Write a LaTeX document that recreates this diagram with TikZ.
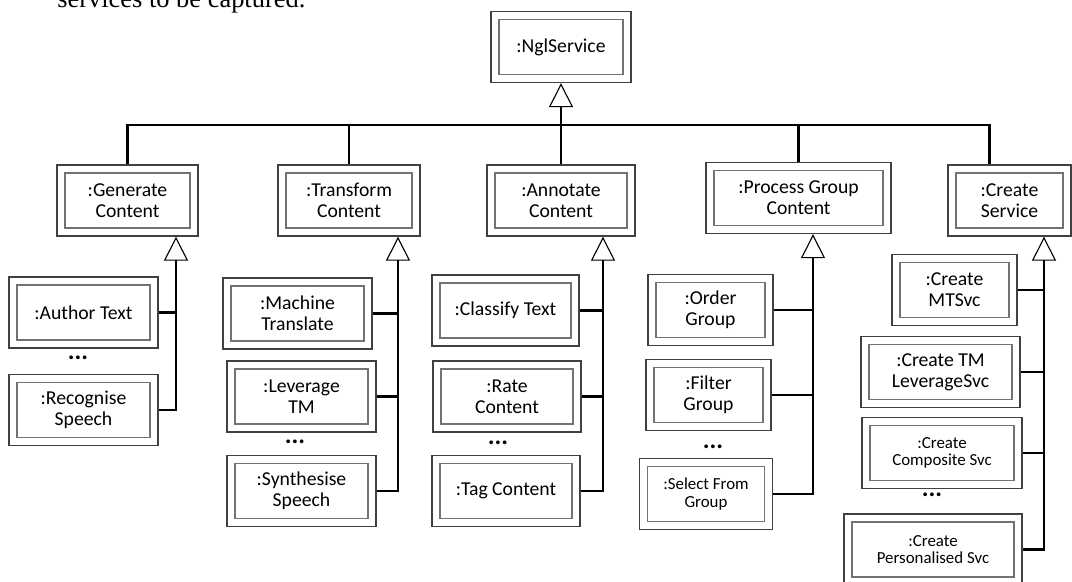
\documentclass[tikz,border=0pt]{standalone}
\usepackage{fontspec}
\setmainfont{Liberation Serif}
\newfontfamily\boxfont{Carlito}
\usetikzlibrary{arrows.meta,calc}

\begin{document}
\begin{tikzpicture}[
	x=0.025cm, y=-0.025cm,
	obj/.style={draw=black!75, line width=0.9pt, fill=white, minimum height=1.775cm,
		align=center, inner sep=2pt, font=\boxfont\fontsize{14}{15}\selectfont,
		path picture={\draw[black!55, line width=0.9pt]
			([shift={(0.2cm,0.2cm)}]path picture bounding box.south west) rectangle
			([shift={(-0.2cm,-0.2cm)}]path picture bounding box.north east);}},
	small obj/.style={obj, font=\boxfont\fontsize{12}{12.5}\selectfont},
	boxw/.style={minimum width=#1*0.025cm},
	link/.style={line width=2.1pt},
	inherit/.style={line width=2.1pt, -{Triangle[length=0.6cm, width=0.6cm, line width=0.8pt, fill=white]}},
	dots/.style={font=\boxfont\bfseries\fontsize{18}{18}\selectfont, inner sep=0pt}
	]
	\useasboundingbox (0,0) rectangle (1072,581);
	% caption text cut at the top
	\node[anchor=base west, inner sep=0pt, font=\fontsize{18.8}{20}\selectfont] (caption) at (57,7) {services to be captured.};
	% root
	\node[obj, boxw=140] (ngl) at (561,47) {:NglService};
	% second row
	\node[obj, boxw=141] (gen) at (127.5,200.5) {:Generate\\Content};
	\node[obj, boxw=142] (trans) at (349,200.5) {:Transform\\Content};
	\node[obj, boxw=148] (annot) at (561,200.5) {:Annotate\\Content};
	\node[obj, boxw=185] (proc) at (798.5,198) {:Process Group\\Content};
	\node[obj, boxw=123] (cserv) at (1009.5,200.5) {:Create\\Service};
	\coordinate (bus) at (561,125);
	\draw[link] (gen.north) |- (bus) -| ([xshift=-0.5cm]cserv.north);
	\draw[link] (trans.north) -- (trans.north |- bus);
	\draw[link] (proc.north) -- (proc.north |- bus);
	\draw[inherit] (annot.north) -- (ngl.south);
	% generate content
	\coordinate (genA) at (176,0 |- gen.south);
	\node[obj, boxw=149] (author) at (83.5,312.5) {:Author Text};
	\node[dots] (dotsA) at (78,358) {...};
	\node[obj, boxw=149] (recog) at (83.5,410) {:Recognise\\Speech};
	\draw[inherit] (recog.east) -| (genA);
	\draw[link] (author.east) -- (author.east -| genA);
	% transform content
	\coordinate (transA) at (398,0 |- trans.south);
	\node[obj, boxw=149] (mt) at (297.5,313.5) {:Machine\\Translate};
	\node[obj, boxw=149] (lev) at (301.5,396.5) {:Leverage\\TM};
	\node[dots] (dotsB) at (295,442) {...};
	\node[obj, boxw=149] (synth) at (301.5,491) {:Synthesise\\Speech};
	\draw[inherit] (synth.east) -| (transA);
	\draw[link] (mt.east) -- (mt.east -| transA);
	\draw[link] (lev.east) -- (lev.east -| transA);
	% annotate content
	\coordinate (annotA) at (603,0 |- annot.south);
	\node[obj, boxw=147] (classify) at (505.5,310.5) {:Classify Text};
	\node[obj, boxw=148] (rate) at (507,396.5) {:Rate\\Content};
	\node[dots] (dotsC) at (498,443) {...};
	\node[obj, boxw=148] (tag) at (506,491) {:Tag Content};
	\draw[inherit] (tag.east) -| (annotA);
	\draw[link] (classify.east) -- (classify.east -| annotA);
	\draw[link] (rate.east) -- (rate.east -| annotA);
	% process group content
	\coordinate (procA) at (813,0 |- proc.south);
	\node[obj, boxw=125] (order) at (710.5,310) {:Order\\Group};
	\node[obj, boxw=125] (filter) at (708.5,395) {:Filter\\Group};
	\node[dots] (dotsD) at (713,447) {...};
	\node[small obj, boxw=133] (select) at (706,494) {:Select From\\Group};
	\draw[inherit] (select.east) -| (procA);
	\draw[link] (order.east) -- (order.east -| procA);
	\draw[link] (filter.east) -- (filter.east -| procA);
	% create service
	\coordinate (cservA) at (1044,0 |- cserv.south);
	\node[obj, boxw=125] (mtsvc) at (954.5,290) {:Create\\MTSvc};
	\node[obj, boxw=159] (tmlev) at (940.5,372) {:Create TM\\LeverageSvc};
	\node[small obj, boxw=160] (compsvc) at (942,453) {:Create\\Composite Svc};
	\node[dots] (dotsE) at (932,495) {...};
	\node[small obj, boxw=178] (perssvc) at (933,549.5) {:Create\\Personalised Svc};
	\draw[inherit] (perssvc.east) -| (cservA);
	\draw[link] (mtsvc.east) -- (mtsvc.east -| cservA);
	\draw[link] (tmlev.east) -- (tmlev.east -| cservA);
	\draw[link] (compsvc.east) -- (compsvc.east -| cservA);
\end{tikzpicture}
\end{document}
